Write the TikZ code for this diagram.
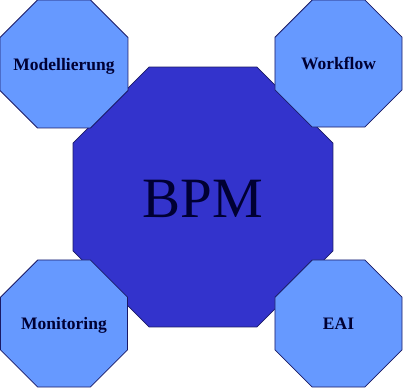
\documentclass[tikz,border=0pt]{standalone}
\usepackage{fontspec}
\setmainfont{Liberation Serif}
\usetikzlibrary{shapes.geometric}
\definecolor{lightoct}{HTML}{6699FF}
\definecolor{darkoct}{HTML}{3333CC}
\definecolor{octline}{HTML}{1A1A66}
\definecolor{octtext}{HTML}{000033}
\tikzset{
  octbase/.style={shape=regular polygon, regular polygon sides=8, inner sep=0pt, outer sep=0pt, draw=octline, line width=0.8pt},
  smalloct/.style={octbase, fill=lightoct, minimum size=137.5pt},
  bigoct/.style={octbase, fill=darkoct, minimum size=281.4pt},
  smalllabel/.style={inner sep=0pt, anchor=base, yshift=-6.3pt, text=octtext, font=\fontsize{17.5}{20}\selectfont\bfseries},
  biglabel/.style={inner sep=0pt, anchor=base, yshift=-20pt, text=octtext, font=\fontsize{57}{60}\selectfont}
}
\begin{document}
\begin{tikzpicture}[x=1pt,y=-1pt]
\useasboundingbox (0,0) rectangle (403,388);
\node[bigoct] (bpm) at (203,197) {};
\node[biglabel] (bpmtext) at (bpm.center) {BPM};
\node[smalloct, minimum size=138.5pt] (mod) at (64,64) {};
\node[smalloct] (wf) at (338.5,63.5) {};
\node[smalloct] (mon) at (64,323.5) {};
\node[smalloct] (eai) at (338.5,323.5) {};
\node[smalllabel] (modtext) at (mod.center) {Modellierung};
\node[smalllabel] (wftext) at (wf.center) {Workflow};
\node[smalllabel] (montext) at (mon.center) {Monitoring};
\node[smalllabel] (eaitext) at (eai.center) {EAI};
\end{tikzpicture}
\end{document}
